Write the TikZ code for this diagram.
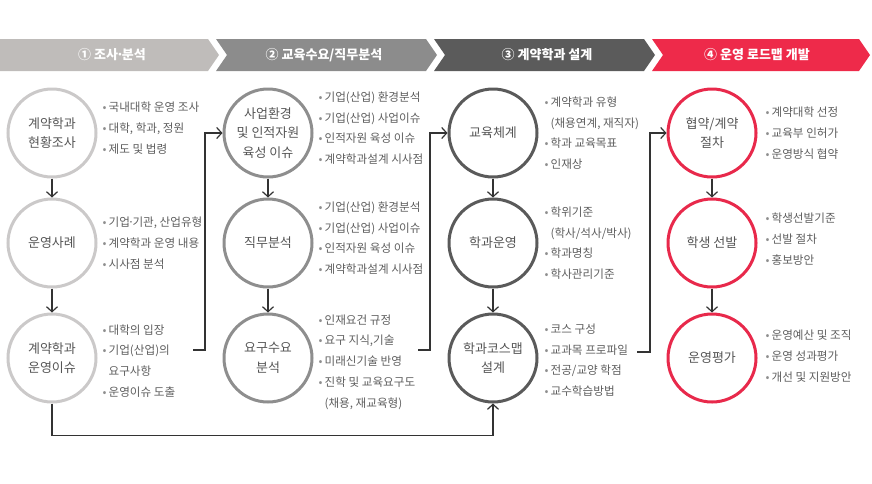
\documentclass[tikz,border=0pt]{standalone}
\usepackage{fontspec}
\setmainfont{Noto Sans CJK KR}
\usepackage{tikz}
\usetikzlibrary{arrows.meta,positioning}
\definecolor{bandA}{HTML}{BFBCBA}
\definecolor{bandB}{HTML}{8C8C8C}
\definecolor{bandC}{HTML}{5B5B5B}
\definecolor{bandD}{HTML}{EE2A4A}
\definecolor{ringA}{HTML}{CBC9C9}
\definecolor{ringB}{HTML}{8E8E8E}
\definecolor{ringC}{HTML}{5A5A5A}
\definecolor{ringD}{HTML}{E8294B}
\definecolor{txtgray}{HTML}{555555}
\definecolor{notegray}{HTML}{5E5E5E}
\definecolor{linegray}{HTML}{333333}
\newcommand\bul{\textcolor{notegray!70}{•}\hspace{2pt}}
\newcommand\bulpad{\phantom{•}\hspace{2pt}}
\newcommand\mdot{\kern-2pt·\kern-2pt}

\begin{document}
\begin{tikzpicture}[x=1pt,y=-1pt,
  node distance=19pt,
  stage/.style={circle,draw,line width=3pt,minimum size=88pt,inner sep=0pt,align=center,font=\fontsize{13}{19.5}\selectfont,text=txtgray},
  note/.style={anchor=west,align=left,inner sep=0pt,font=\fontsize{11.6}{20.7}\selectfont,text=notegray},
  head/.style={text=white,font=\fontsize{13}{15}\selectfont\bfseries},
  arr/.style={-{Straight Barb[length=5pt,width=11pt]},line width=1.2pt,draw=linegray},
  link/.style={line width=1.2pt,draw=linegray}
]
\useasboundingbox (0,0) rectangle (872,483);

% banner
\fill[bandA] (0,39) -- (208,39) -- (219,55) -- (208,71) -- (0,71) -- cycle;
\fill[bandB] (216,39) -- (426,39) -- (437,55) -- (426,71) -- (216,71) -- (227,55) -- cycle;
\fill[bandC] (434,39) -- (644,39) -- (655,55) -- (644,71) -- (434,71) -- (445,55) -- cycle;
\fill[bandD] (652,39) -- (859,39) -- (870,55) -- (859,71) -- (652,71) -- (663,55) -- cycle;
\node[head] (h1) at (112,55) {① 조사\mdot 분석};
\node[head] (h2) at (324,55) {② 교육수요/직무분석};
\node[head] (h3) at (547,55) {③ 계약학과 설계};
\node[head] (h4) at (757,55) {④ 운영 로드맵 개발};

% stages
\node[stage,draw=ringA] (c11) at (52,133) {계약학과\\현황조사};
\node[stage,draw=ringA,below=of c11] (c12) {운영사례};
\node[stage,draw=ringA,below=24pt of c12] (c13) {계약학과\\운영이슈};

\node[stage,draw=ringB] (c21) at (268,133) {사업환경\\및 인적자원\\육성 이슈};
\node[stage,draw=ringB,below=of c21] (c22) {직무분석};
\node[stage,draw=ringB,below=24pt of c22] (c23) {요구수요\\분석};

\node[stage,draw=ringC] (c31) at (493,133) {교육체계};
\node[stage,draw=ringC,below=of c31] (c32) {학과운영};
\node[stage,draw=ringC,below=24pt of c32] (c33) {학과코스맵\\설계};

\node[stage,draw=ringD] (c41) at (712,133) {협약/계약\\절차};
\node[stage,draw=ringD,below=of c41] (c42) {학생 선발};
\node[stage,draw=ringD,below=24pt of c42] (c43) {운영평가};

% notes
\node[note,right=5pt of c11,yshift=5pt] (n11) {\bul 국내대학 운영 조사\\\bul 대학, 학과, 정원\\\bul 제도 및 법령};
\node[note,right=5pt of c12] (n12) {\bul 기업\mdot 기관, 산업유형\\\bul 계약학과 운영 내용\\\bul 시사점 분석};
\node[note,right=5pt of c13,yshift=-3pt] (n13) {\bul 대학의 입장\\\bul 기업(산업)의\\\bulpad 요구사항\\\bul 운영이슈 도출};

\node[note,right=5pt of c21,yshift=5pt] (n21) {\bul 기업(산업) 환경분석\\\bul 기업(산업) 사업이슈\\\bul 인적자원 육성 이슈\\\bul 계약학과설계 시사점};
\node[note,right=5pt of c22,yshift=5pt] (n22) {\bul 기업(산업) 환경분석\\\bul 기업(산업) 사업이슈\\\bul 인적자원 육성 이슈\\\bul 계약학과설계 시사점};
\node[note,right=5pt of c23,yshift=-4pt] (n23) {\bul 인재요건 규정\\\bul 요구 지식,기술\\\bul 미래신기술 반영\\\bul 진학 및 교육요구도\\\bulpad (채용, 재교육형)};

\node[note,right=6pt of c31] (n31) {\bul 계약학과 유형\\\bulpad (채용연계, 재직자)\\\bul 학과 교육목표\\\bul 인재상};
\node[note,right=6pt of c32] (n32) {\bul 학위기준\\\bulpad (학사/석사/박사)\\\bul 학과명칭\\\bul 학사관리기준};
\node[note,right=6pt of c33,yshift=-2pt] (n33) {\bul 코스 구성\\\bul 교과목 프로파일\\\bul 전공/교양 학점\\\bul 교수학습방법};

\node[note,right=8pt of c41] (n41) {\bul 계약대학 선정\\\bul 교육부 인허가\\\bul 운영방식 협약};
\node[note,right=8pt of c42,yshift=4pt] (n42) {\bul 학생선발기준\\\bul 선발 절차\\\bul 홍보방안};
\node[note,right=8pt of c43,yshift=2pt] (n43) {\bul 운영예산 및 조직\\\bul 운영 성과평가\\\bul 개선 및 지원방안};

% connectors
\draw[arr] (c11) -- (c12);
\draw[arr] (c12) -- (c13);
\draw[arr] (c21) -- (c22);
\draw[arr] (c22) -- (c23);
\draw[arr] (c31) -- (c32);
\draw[arr] (c32) -- (c33);
\draw[arr] (c41) -- (c42);
\draw[arr] (c42) -- (c43);
\coordinate (o1) at (193,350);
\coordinate (o2) at (418,350);
\coordinate (o3) at (637,352);
\draw[arr] (o1) -- ++(12,0) |- (c21.west);
\draw[arr] (o2) -- ++(12,0) |- (c31.west);
\draw[arr] (o3) -- ++(13,0) |- (c41.west);
\draw[arr] (c13.south) -- ++(0,32) -| (c33.south);
\end{tikzpicture}
\end{document}
